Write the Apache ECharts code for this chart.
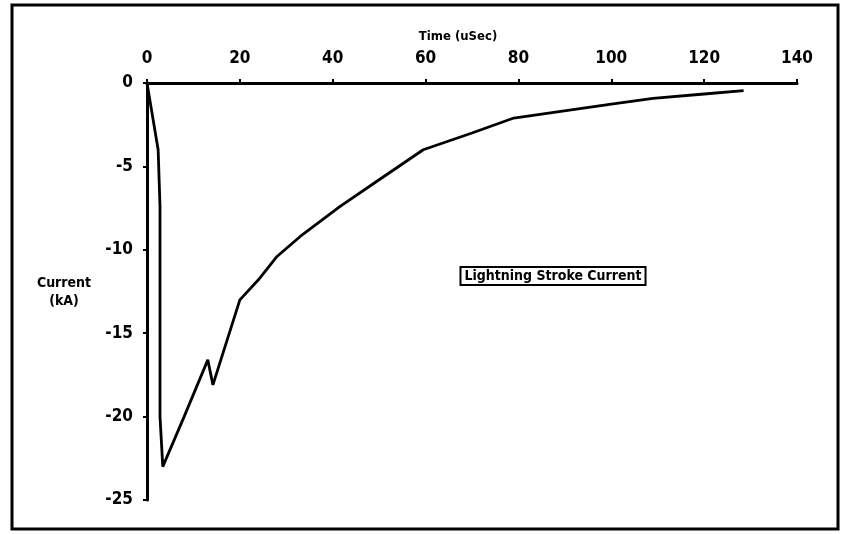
<!DOCTYPE html>
<html>
<head>
<meta charset="utf-8">
<script src="https://cdn.jsdelivr.net/npm/echarts@6/dist/echarts.min.js"></script>
<style>
  html, body { margin: 0; padding: 0; background: #fff; }
  #chart { width: 848px; height: 534px; }
</style>
</head>
<body>
<div id="chart"></div>
<script>
// Lightning stroke current waveform: time in microseconds, current in kA
const timeUs = [0, 2.4, 2.8, 2.8, 3.4, 8, 13.1, 14.2, 20, 24, 28, 33, 41.6, 50, 59.5, 70, 79, 91, 100, 109, 120, 128.5];
const currentKA = [0, -4.0, -7.4, -20.0, -23.0, -20.0, -16.6, -18.1, -13.0, -11.8, -10.4, -9.2, -7.4, -5.8, -4.0, -3.0, -2.1, -1.62, -1.27, -0.92, -0.66, -0.46];
const xTicks = [0, 20, 40, 60, 80, 100, 120, 140];
const yTicks = [0, -5, -10, -15, -20, -25];

const FONT = '"Liberation Sans Narrow", "DejaVu Sans Condensed", "Liberation Sans", sans-serif';

const chart = echarts.init(document.getElementById('chart'), null, { renderer: 'canvas' });

chart.setOption({
  backgroundColor: '#ffffff',
  animation: false,
  grid: { left: 147, right: 51, top: 83, bottom: 34 },
  xAxis: {
    type: 'value',
    position: 'top',
    min: xTicks[0],
    max: xTicks[xTicks.length - 1],
    interval: 20,
    axisLine: { onZero: false, lineStyle: { color: '#000', width: 3 } },
    axisTick: { show: true, length: 4, lineStyle: { color: '#000', width: 2 } },
    axisLabel: {
      margin: 16,
      color: '#000',
      fontFamily: FONT,
      fontWeight: 'bold',
      fontSize: 17
    },
    splitLine: { show: false }
  },
  yAxis: {
    type: 'value',
    min: yTicks[yTicks.length - 1],
    max: yTicks[0],
    interval: 5,
    axisLine: { show: true, onZero: false, lineStyle: { color: '#000', width: 3 } },
    axisTick: { show: true, length: 4, lineStyle: { color: '#000', width: 2 } },
    axisLabel: {
      margin: 14,
      color: '#000',
      fontFamily: FONT,
      fontWeight: 'bold',
      fontSize: 17
    },
    splitLine: { show: false }
  },
  series: [{
    type: 'line',
    data: timeUs.map((t, i) => [t, currentKA[i]]),
    showSymbol: false,
    lineStyle: { color: '#000', width: 2.8 },
    clip: false
  }],
  graphic: [
    {
      type: 'rect',
      shape: { x: 12, y: 5, width: 826, height: 524 },
      style: { fill: null, stroke: '#000', lineWidth: 3 },
      silent: true
    },
    {
      type: 'text',
      x: 458, y: 37,
      style: {
        text: 'Time (uSec)',
        fill: '#000',
        font: 'bold 13px ' + FONT,
        align: 'center',
        verticalAlign: 'middle'
      }
    },
    {
      type: 'text',
      x: 64, y: 292,
      style: {
        text: 'Current\n(kA)',
        fill: '#000',
        font: 'bold 14px ' + FONT,
        align: 'center',
        verticalAlign: 'middle',
        lineHeight: 18
      }
    },
    {
      type: 'text',
      x: 553, y: 276,
      style: {
        text: 'Lightning Stroke Current',
        fill: '#000',
        font: 'bold 14px ' + FONT,
        align: 'center',
        verticalAlign: 'middle',
        backgroundColor: '#fff',
        borderColor: '#000',
        borderWidth: 2,
        padding: [1, 3, 1, 3]
      }
    }
  ]
});
</script>
</body>
</html>
